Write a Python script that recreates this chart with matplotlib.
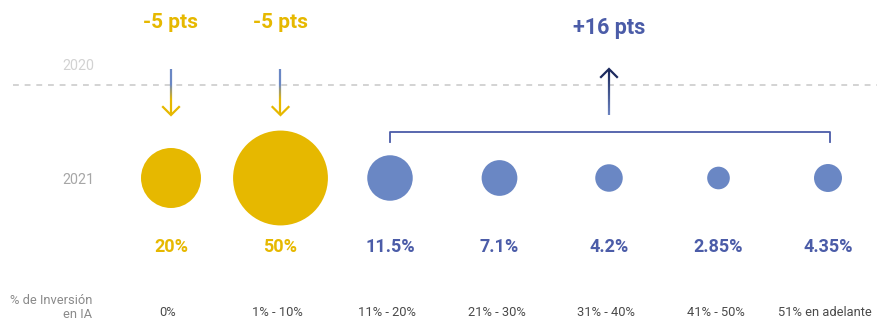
import numpy as np
import matplotlib.pyplot as plt
from matplotlib.collections import LineCollection
from matplotlib.colors import to_rgb

plt.rcParams['font.family'] = ['Roboto', 'DejaVu Sans']

# DATA
ranges = ["0%", "1% - 10%", "11% - 20%", "21% - 30%", "31% - 40%", "41% - 50%", "51% en adelante"]
share_2021 = [20, 50, 11.5, 7.1, 4.2, 2.85, 4.35]
value_labels = ["20%", "50%", "11.5%", "7.1%", "4.2%", "2.85%", "4.35%"]
is_decline = [True, True, False, False, False, False, False]
changes = ["-5 pts", "-5 pts", "+16 pts"]

GOLD = "#e6b800"
BLUE_DOT = "#6a87c4"
BLUE_TXT = "#4b5ca8"
NAVY = "#1c2a5e"

# layout (y in pixel rows, top = 0; x in category units)
Y_TITLE = 23
Y_2020 = 85
Y_2021 = 178
Y_VALUE = 247
Y_RANGE = 313
PX = 109.5          # pixels per category step
X0 = -1.5616        # left edge of the figure in category units

fig = plt.figure(figsize=(8.77, 3.2), dpi=100)
ax = fig.add_axes([0, 0, 1, 1])
ax.set_xlim(X0, 6.4475)
ax.set_ylim(320, 0)
ax.axis("off")

x = np.arange(len(ranges))
colours = [GOLD if d else BLUE_DOT for d in is_decline]
txt_colours = [GOLD if d else BLUE_TXT for d in is_decline]

# bubble area proportional to the share
sizes = [93.3 * v for v in share_2021]
ax.scatter(x, [Y_2021] * len(x), s=sizes, c=colours, linewidths=0, zorder=3)

for xi, lab, col in zip(x, value_labels, txt_colours):
    ax.text(xi, Y_VALUE, lab, color=col, fontsize=13, fontweight="bold",
            ha="center", va="center")

for xi, lab in zip(x, ranges):
    ax.text(xi - 3 / PX, Y_RANGE, lab, color="#4a4a4a", fontsize=9.3, ha="center", va="center")

ax.text(X0 + 92 / PX, 300, "% de Inversión", color="#8a8a8a", fontsize=9.3,
        ha="right", va="center")
ax.text(X0 + 92 / PX, 314, "en IA", color="#8a8a8a", fontsize=9.3,
        ha="right", va="center")

# year reference row
ax.text(X0 + 78 / PX, 66, "2020", color="#d2d2d2", fontsize=10.3, ha="center", va="center")
ax.text(X0 + 78 / PX, 180, "2021", color="#a6a6a6", fontsize=10.3, ha="center", va="center")
ax.plot([X0 + 13 / PX, 6.4475], [Y_2020, Y_2020], color="#cccccc", lw=1.2,
        ls=(0, (3.5, 3.5)), zorder=1)


def gradient_line(ax, xpos, y0, y1, c0, c1, n=60, lw=1.6):
    ys = np.linspace(y0, y1, n + 1)
    segs = [[(xpos, ys[i]), (xpos, ys[i + 1])] for i in range(n)]
    a, b = np.array(to_rgb(c0)), np.array(to_rgb(c1))
    t = np.linspace(0, 1, n)
    cols = [a + (b - a) * ti for ti in t]
    ax.add_collection(LineCollection(segs, colors=cols, linewidths=lw, zorder=2))


def chevron(ax, xpos, ytip, col, down=True, w=0.073, h=8):
    dy = -h if down else h
    ax.plot([xpos - w, xpos, xpos + w], [ytip + dy, ytip, ytip + dy], color=col,
            lw=1.6, solid_joinstyle="miter", zorder=2)


# down arrows for the two declining groups
for xi, lab in zip(x[:2], changes[:2]):
    ax.text(xi, Y_TITLE, lab, color=GOLD, fontsize=15, fontweight="bold",
            ha="center", va="center")
    gradient_line(ax, xi, 69, 84, BLUE_DOT, BLUE_DOT, n=4)
    gradient_line(ax, xi, 84, 100, BLUE_DOT, GOLD, n=30)
    gradient_line(ax, xi, 100, 115, GOLD, GOLD, n=4)
    chevron(ax, xi, 115, GOLD, down=True)

# bracket grouping the rising ranges, with one up arrow
bx0, bx1 = 2, 6 + 2 / PX
ax.plot([bx0, bx0, bx1, bx1], [142, 132, 132, 142], color=BLUE_TXT, lw=1.3, zorder=2)
mid = 4
gradient_line(ax, mid, 115, 70, "#6c83c0", NAVY, n=60)
chevron(ax, mid, 69, NAVY, down=False)
ax.text(mid, 28, changes[2], color=BLUE_TXT, fontsize=15.5, fontweight="bold",
        ha="center", va="center")

fig.savefig("out.png", dpi=100)
